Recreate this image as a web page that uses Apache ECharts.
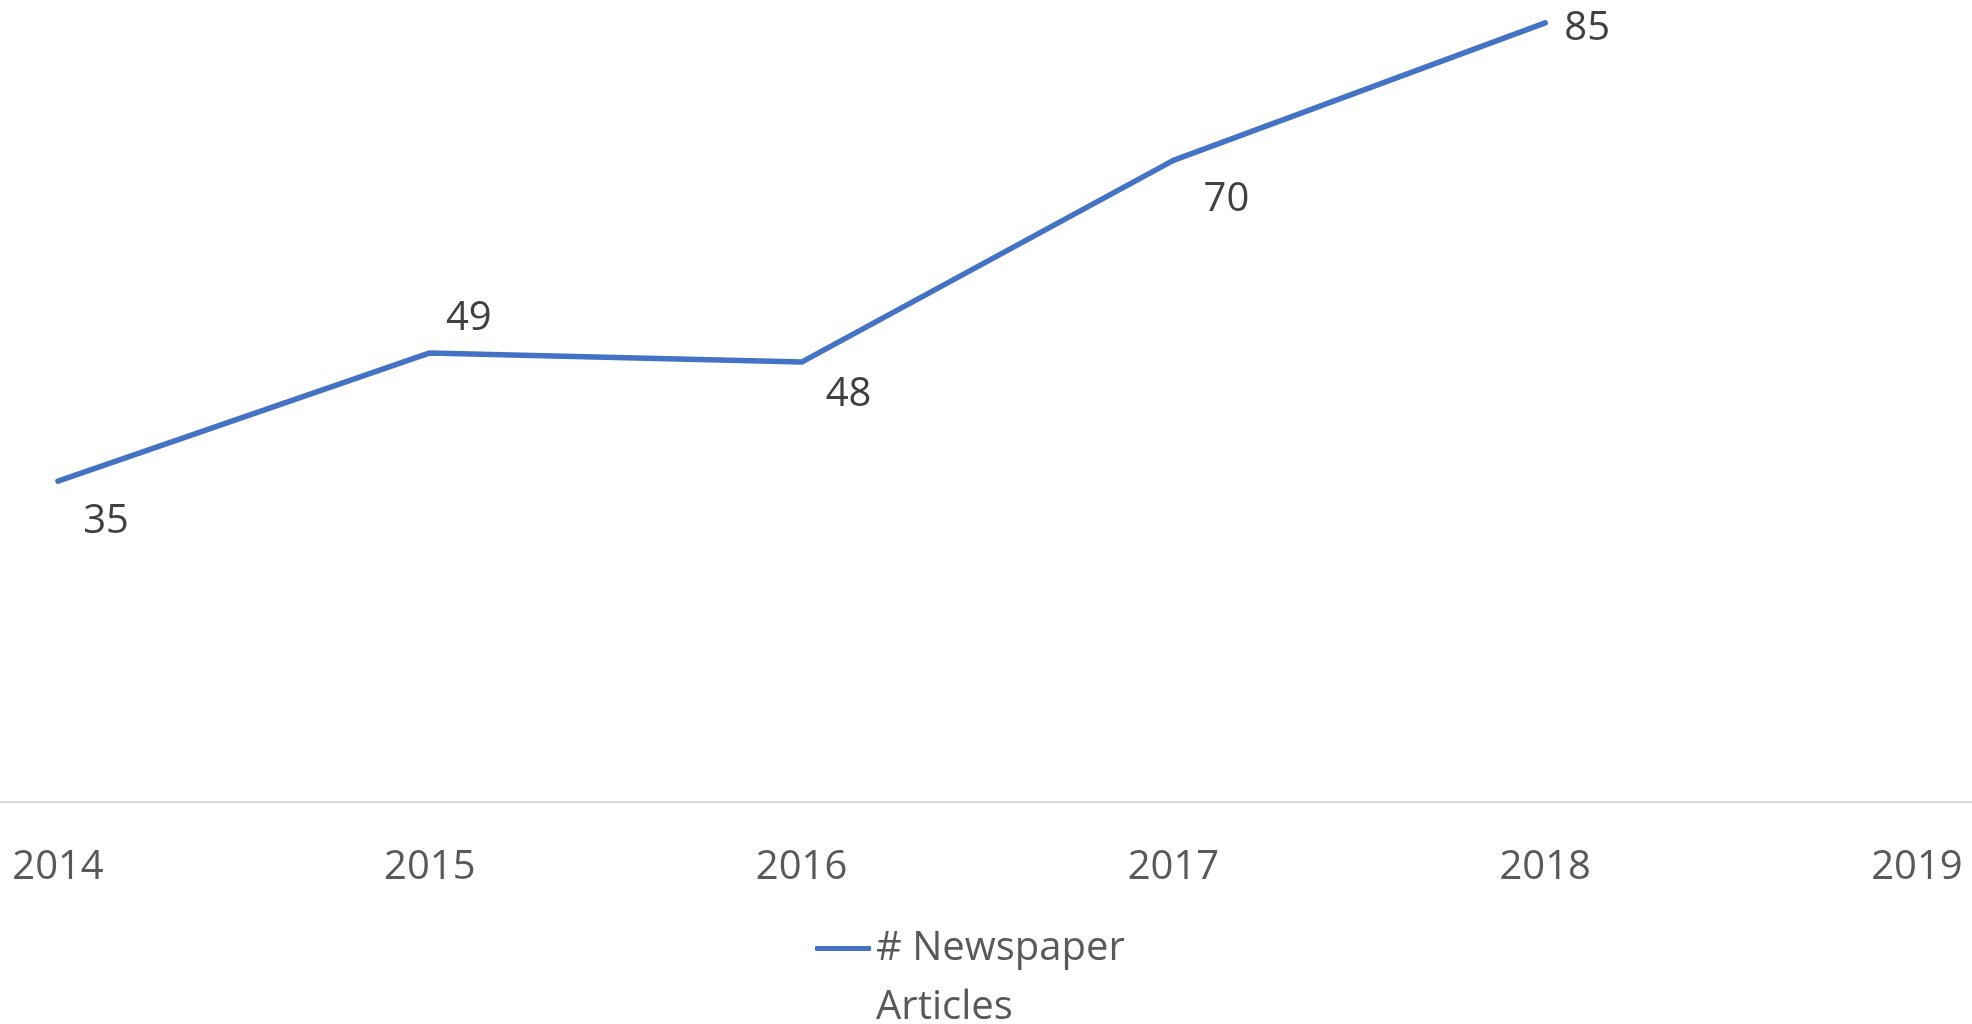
<!DOCTYPE html>
<html>
<head>
<meta charset="utf-8">
<script src="https://cdn.jsdelivr.net/npm/echarts@6/dist/echarts.min.js"></script>
<style>html,body{margin:0;padding:0;background:#fff}#c{width:1972px;height:1024px}</style>
</head>
<body>
<div id="c"></div>
<script>
// ---- data ----
const years = [2014, 2015, 2016, 2017, 2018];
const tickYears = [2014, 2015, 2016, 2017, 2018, 2019];
const articles = [35, 49, 48, 70, 85];
const seriesName = '# Newspaper Articles';

// ---- styling ----
const labelOffsets = [[48, 40], [39, -34], [47, 33], [53, 39], [42, 6]];
const FONT = '"Open Sans", "Noto Sans", sans-serif';

const chart = echarts.init(document.getElementById('c'));
chart.setOption({
  animation: false,
  backgroundColor: '#ffffff',
  grid: { left: 0, right: 0, top: 0, bottom: 222 },
  xAxis: {
    type: 'value',
    min: 2013.844,
    max: 2019.148,
    axisLine: { show: true, lineStyle: { color: '#D9D9D9', width: 2 } },
    axisTick: { show: false },
    splitLine: { show: false },
    axisLabel: {
      customValues: tickYears,
      formatter: v => String(Math.round(v)),
      color: '#595959',
      fontFamily: FONT,
      fontSize: 40,
      margin: 46
    }
  },
  yAxis: {
    type: 'value',
    min: 0,
    max: 87.5,
    show: false,
    splitLine: { show: false }
  },
  legend: {
    show: true,
    left: 810,
    top: 855,
    icon: 'roundRect',
    itemWidth: 56,
    itemHeight: 5,
    itemStyle: { color: '#4472C4', opacity: 1 },
    // leading blank line keeps the icon level with the first text line
    formatter: () => ' \n# Newspaper\nArticles',
    textStyle: {
      color: '#595959',
      fontFamily: FONT,
      fontSize: 40,
      lineHeight: 59
    }
  },
  series: [{
    name: seriesName,
    type: 'line',
    data: years.map((y, i) => ({
      value: [y, articles[i]],
      label: { offset: labelOffsets[i] }
    })),
    symbol: 'circle',
    symbolSize: 0.1,
    showSymbol: true,
    itemStyle: { color: '#4472C4' },
    lineStyle: { color: '#4472C4', width: 5.5, cap: 'round', join: 'round' },
    label: {
      show: true,
      position: 'inside',
      formatter: p => String(p.value[1]),
      color: '#404040',
      fontFamily: FONT,
      fontSize: 40,
      align: 'center',
      verticalAlign: 'middle'
    }
  }]
});
</script>
</body>
</html>
